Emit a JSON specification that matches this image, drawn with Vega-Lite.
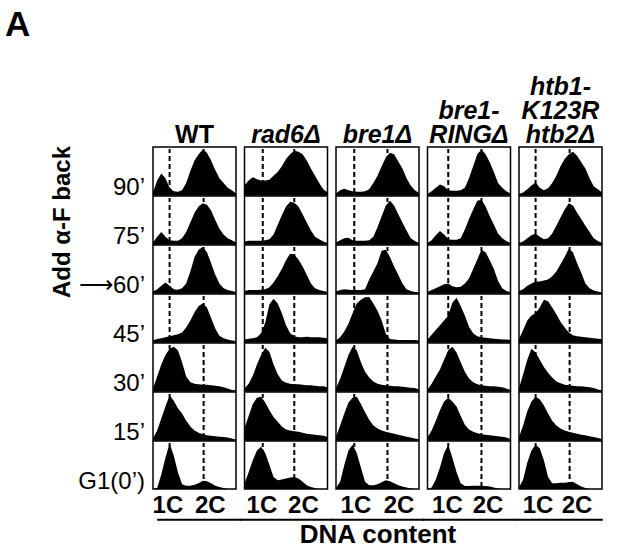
{
"$schema":"https://vega.github.io/schema/vega-lite/v6.json",
"background":"white",
"padding":{"left":4,"top":8,"right":5,"bottom":5},
"title":{"text":"A","anchor":"start","frame":"bounds","fontSize":35,"fontWeight":"bold","dx":-46,"offset":32,"color":"black"},
"data":{"values":[
{"s":"WT","t":90,"x":0,"y":5},{"s":"WT","t":90,"x":5,"y":30},{"s":"WT","t":90,"x":10,"y":45},{"s":"WT","t":90,"x":15,"y":35},{"s":"WT","t":90,"x":20,"y":15},{"s":"WT","t":90,"x":25,"y":8},{"s":"WT","t":90,"x":30,"y":7},{"s":"WT","t":90,"x":35,"y":10},{"s":"WT","t":90,"x":40,"y":25},{"s":"WT","t":90,"x":45,"y":50},{"s":"WT","t":90,"x":50,"y":72},{"s":"WT","t":90,"x":55,"y":85},{"s":"WT","t":90,"x":60,"y":95},{"s":"WT","t":90,"x":65,"y":88},{"s":"WT","t":90,"x":70,"y":72},{"s":"WT","t":90,"x":75,"y":52},{"s":"WT","t":90,"x":80,"y":35},{"s":"WT","t":90,"x":85,"y":25},{"s":"WT","t":90,"x":90,"y":15},{"s":"WT","t":90,"x":95,"y":10},{"s":"WT","t":90,"x":100,"y":3},
{"s":"WT","t":75,"x":0,"y":3},{"s":"WT","t":75,"x":5,"y":15},{"s":"WT","t":75,"x":10,"y":25},{"s":"WT","t":75,"x":15,"y":15},{"s":"WT","t":75,"x":20,"y":8},{"s":"WT","t":75,"x":25,"y":7},{"s":"WT","t":75,"x":30,"y":7},{"s":"WT","t":75,"x":35,"y":12},{"s":"WT","t":75,"x":40,"y":25},{"s":"WT","t":75,"x":45,"y":45},{"s":"WT","t":75,"x":50,"y":65},{"s":"WT","t":75,"x":55,"y":78},{"s":"WT","t":75,"x":60,"y":85},{"s":"WT","t":75,"x":65,"y":82},{"s":"WT","t":75,"x":70,"y":70},{"s":"WT","t":75,"x":75,"y":50},{"s":"WT","t":75,"x":80,"y":32},{"s":"WT","t":75,"x":85,"y":20},{"s":"WT","t":75,"x":90,"y":12},{"s":"WT","t":75,"x":95,"y":8},{"s":"WT","t":75,"x":100,"y":3},
{"s":"WT","t":60,"x":0,"y":3},{"s":"WT","t":60,"x":5,"y":8},{"s":"WT","t":60,"x":10,"y":15},{"s":"WT","t":60,"x":15,"y":22},{"s":"WT","t":60,"x":20,"y":15},{"s":"WT","t":60,"x":25,"y":8},{"s":"WT","t":60,"x":30,"y":7},{"s":"WT","t":60,"x":35,"y":10},{"s":"WT","t":60,"x":40,"y":20},{"s":"WT","t":60,"x":45,"y":45},{"s":"WT","t":60,"x":50,"y":75},{"s":"WT","t":60,"x":55,"y":90},{"s":"WT","t":60,"x":60,"y":96},{"s":"WT","t":60,"x":65,"y":85},{"s":"WT","t":60,"x":70,"y":62},{"s":"WT","t":60,"x":75,"y":38},{"s":"WT","t":60,"x":80,"y":20},{"s":"WT","t":60,"x":85,"y":10},{"s":"WT","t":60,"x":90,"y":6},{"s":"WT","t":60,"x":95,"y":4},{"s":"WT","t":60,"x":100,"y":2},
{"s":"WT","t":45,"x":0,"y":3},{"s":"WT","t":45,"x":5,"y":6},{"s":"WT","t":45,"x":10,"y":8},{"s":"WT","t":45,"x":15,"y":10},{"s":"WT","t":45,"x":20,"y":12},{"s":"WT","t":45,"x":25,"y":14},{"s":"WT","t":45,"x":30,"y":16},{"s":"WT","t":45,"x":35,"y":20},{"s":"WT","t":45,"x":40,"y":30},{"s":"WT","t":45,"x":45,"y":45},{"s":"WT","t":45,"x":50,"y":62},{"s":"WT","t":45,"x":55,"y":75},{"s":"WT","t":45,"x":60,"y":80},{"s":"WT","t":45,"x":65,"y":72},{"s":"WT","t":45,"x":70,"y":50},{"s":"WT","t":45,"x":75,"y":28},{"s":"WT","t":45,"x":80,"y":13},{"s":"WT","t":45,"x":85,"y":8},{"s":"WT","t":45,"x":90,"y":5},{"s":"WT","t":45,"x":95,"y":3},{"s":"WT","t":45,"x":100,"y":2},
{"s":"WT","t":30,"x":0,"y":5},{"s":"WT","t":30,"x":5,"y":30},{"s":"WT","t":30,"x":10,"y":55},{"s":"WT","t":30,"x":15,"y":75},{"s":"WT","t":30,"x":20,"y":88},{"s":"WT","t":30,"x":25,"y":92},{"s":"WT","t":30,"x":30,"y":85},{"s":"WT","t":30,"x":35,"y":60},{"s":"WT","t":30,"x":40,"y":30},{"s":"WT","t":30,"x":45,"y":18},{"s":"WT","t":30,"x":50,"y":15},{"s":"WT","t":30,"x":55,"y":14},{"s":"WT","t":30,"x":60,"y":13},{"s":"WT","t":30,"x":65,"y":13},{"s":"WT","t":30,"x":70,"y":12},{"s":"WT","t":30,"x":75,"y":11},{"s":"WT","t":30,"x":80,"y":10},{"s":"WT","t":30,"x":85,"y":8},{"s":"WT","t":30,"x":90,"y":5},{"s":"WT","t":30,"x":95,"y":2},{"s":"WT","t":30,"x":100,"y":0},
{"s":"WT","t":15,"x":0,"y":3},{"s":"WT","t":15,"x":5,"y":20},{"s":"WT","t":15,"x":10,"y":45},{"s":"WT","t":15,"x":15,"y":70},{"s":"WT","t":15,"x":20,"y":93},{"s":"WT","t":15,"x":25,"y":82},{"s":"WT","t":15,"x":30,"y":66},{"s":"WT","t":15,"x":35,"y":55},{"s":"WT","t":15,"x":40,"y":40},{"s":"WT","t":15,"x":45,"y":28},{"s":"WT","t":15,"x":50,"y":20},{"s":"WT","t":15,"x":55,"y":15},{"s":"WT","t":15,"x":60,"y":12},{"s":"WT","t":15,"x":65,"y":10},{"s":"WT","t":15,"x":70,"y":9},{"s":"WT","t":15,"x":75,"y":8},{"s":"WT","t":15,"x":80,"y":7},{"s":"WT","t":15,"x":85,"y":6},{"s":"WT","t":15,"x":90,"y":5},{"s":"WT","t":15,"x":95,"y":3},{"s":"WT","t":15,"x":100,"y":0},
{"s":"WT","t":0,"x":0,"y":0},{"s":"WT","t":0,"x":5,"y":2},{"s":"WT","t":0,"x":10,"y":30},{"s":"WT","t":0,"x":15,"y":65},{"s":"WT","t":0,"x":20,"y":95},{"s":"WT","t":0,"x":25,"y":70},{"s":"WT","t":0,"x":30,"y":35},{"s":"WT","t":0,"x":35,"y":10},{"s":"WT","t":0,"x":40,"y":7},{"s":"WT","t":0,"x":45,"y":7},{"s":"WT","t":0,"x":50,"y":9},{"s":"WT","t":0,"x":55,"y":12},{"s":"WT","t":0,"x":60,"y":17},{"s":"WT","t":0,"x":65,"y":16},{"s":"WT","t":0,"x":70,"y":12},{"s":"WT","t":0,"x":75,"y":7},{"s":"WT","t":0,"x":80,"y":4},{"s":"WT","t":0,"x":85,"y":2},{"s":"WT","t":0,"x":90,"y":0},{"s":"WT","t":0,"x":95,"y":0},{"s":"WT","t":0,"x":100,"y":0},
{"s":"rad6","t":90,"x":0,"y":20},{"s":"rad6","t":90,"x":5,"y":30},{"s":"rad6","t":90,"x":10,"y":37},{"s":"rad6","t":90,"x":15,"y":33},{"s":"rad6","t":90,"x":20,"y":30},{"s":"rad6","t":90,"x":25,"y":30},{"s":"rad6","t":90,"x":30,"y":32},{"s":"rad6","t":90,"x":35,"y":40},{"s":"rad6","t":90,"x":40,"y":48},{"s":"rad6","t":90,"x":45,"y":60},{"s":"rad6","t":90,"x":50,"y":75},{"s":"rad6","t":90,"x":55,"y":85},{"s":"rad6","t":90,"x":60,"y":92},{"s":"rad6","t":90,"x":65,"y":90},{"s":"rad6","t":90,"x":70,"y":85},{"s":"rad6","t":90,"x":75,"y":72},{"s":"rad6","t":90,"x":80,"y":55},{"s":"rad6","t":90,"x":85,"y":40},{"s":"rad6","t":90,"x":90,"y":25},{"s":"rad6","t":90,"x":95,"y":12},{"s":"rad6","t":90,"x":100,"y":5},
{"s":"rad6","t":75,"x":0,"y":5},{"s":"rad6","t":75,"x":5,"y":7},{"s":"rad6","t":75,"x":10,"y":7},{"s":"rad6","t":75,"x":15,"y":7},{"s":"rad6","t":75,"x":20,"y":7},{"s":"rad6","t":75,"x":25,"y":8},{"s":"rad6","t":75,"x":30,"y":10},{"s":"rad6","t":75,"x":35,"y":20},{"s":"rad6","t":75,"x":40,"y":40},{"s":"rad6","t":75,"x":45,"y":60},{"s":"rad6","t":75,"x":50,"y":78},{"s":"rad6","t":75,"x":55,"y":88},{"s":"rad6","t":75,"x":60,"y":86},{"s":"rad6","t":75,"x":65,"y":78},{"s":"rad6","t":75,"x":70,"y":62},{"s":"rad6","t":75,"x":75,"y":45},{"s":"rad6","t":75,"x":80,"y":28},{"s":"rad6","t":75,"x":85,"y":15},{"s":"rad6","t":75,"x":90,"y":10},{"s":"rad6","t":75,"x":95,"y":5},{"s":"rad6","t":75,"x":100,"y":2},
{"s":"rad6","t":60,"x":0,"y":4},{"s":"rad6","t":60,"x":5,"y":6},{"s":"rad6","t":60,"x":10,"y":6},{"s":"rad6","t":60,"x":15,"y":6},{"s":"rad6","t":60,"x":20,"y":7},{"s":"rad6","t":60,"x":25,"y":8},{"s":"rad6","t":60,"x":30,"y":12},{"s":"rad6","t":60,"x":35,"y":22},{"s":"rad6","t":60,"x":40,"y":35},{"s":"rad6","t":60,"x":45,"y":50},{"s":"rad6","t":60,"x":50,"y":68},{"s":"rad6","t":60,"x":55,"y":82},{"s":"rad6","t":60,"x":60,"y":80},{"s":"rad6","t":60,"x":65,"y":70},{"s":"rad6","t":60,"x":70,"y":55},{"s":"rad6","t":60,"x":75,"y":38},{"s":"rad6","t":60,"x":80,"y":20},{"s":"rad6","t":60,"x":85,"y":10},{"s":"rad6","t":60,"x":90,"y":6},{"s":"rad6","t":60,"x":95,"y":4},{"s":"rad6","t":60,"x":100,"y":2},
{"s":"rad6","t":45,"x":0,"y":5},{"s":"rad6","t":45,"x":5,"y":7},{"s":"rad6","t":45,"x":10,"y":8},{"s":"rad6","t":45,"x":15,"y":10},{"s":"rad6","t":45,"x":20,"y":18},{"s":"rad6","t":45,"x":25,"y":40},{"s":"rad6","t":45,"x":30,"y":78},{"s":"rad6","t":45,"x":35,"y":90},{"s":"rad6","t":45,"x":40,"y":80},{"s":"rad6","t":45,"x":45,"y":60},{"s":"rad6","t":45,"x":50,"y":35},{"s":"rad6","t":45,"x":55,"y":18},{"s":"rad6","t":45,"x":60,"y":12},{"s":"rad6","t":45,"x":65,"y":10},{"s":"rad6","t":45,"x":70,"y":10},{"s":"rad6","t":45,"x":75,"y":11},{"s":"rad6","t":45,"x":80,"y":10},{"s":"rad6","t":45,"x":85,"y":10},{"s":"rad6","t":45,"x":90,"y":10},{"s":"rad6","t":45,"x":95,"y":9},{"s":"rad6","t":45,"x":100,"y":8},
{"s":"rad6","t":30,"x":0,"y":5},{"s":"rad6","t":30,"x":5,"y":15},{"s":"rad6","t":30,"x":10,"y":32},{"s":"rad6","t":30,"x":15,"y":55},{"s":"rad6","t":30,"x":20,"y":75},{"s":"rad6","t":30,"x":25,"y":90},{"s":"rad6","t":30,"x":30,"y":82},{"s":"rad6","t":30,"x":35,"y":55},{"s":"rad6","t":30,"x":40,"y":35},{"s":"rad6","t":30,"x":45,"y":22},{"s":"rad6","t":30,"x":50,"y":17},{"s":"rad6","t":30,"x":55,"y":15},{"s":"rad6","t":30,"x":60,"y":14},{"s":"rad6","t":30,"x":65,"y":14},{"s":"rad6","t":30,"x":70,"y":13},{"s":"rad6","t":30,"x":75,"y":12},{"s":"rad6","t":30,"x":80,"y":12},{"s":"rad6","t":30,"x":85,"y":11},{"s":"rad6","t":30,"x":90,"y":10},{"s":"rad6","t":30,"x":95,"y":10},{"s":"rad6","t":30,"x":100,"y":8},
{"s":"rad6","t":15,"x":0,"y":25},{"s":"rad6","t":15,"x":5,"y":50},{"s":"rad6","t":15,"x":10,"y":75},{"s":"rad6","t":15,"x":15,"y":88},{"s":"rad6","t":15,"x":20,"y":90},{"s":"rad6","t":15,"x":25,"y":78},{"s":"rad6","t":15,"x":30,"y":62},{"s":"rad6","t":15,"x":35,"y":48},{"s":"rad6","t":15,"x":40,"y":38},{"s":"rad6","t":15,"x":45,"y":28},{"s":"rad6","t":15,"x":50,"y":22},{"s":"rad6","t":15,"x":55,"y":20},{"s":"rad6","t":15,"x":60,"y":18},{"s":"rad6","t":15,"x":65,"y":17},{"s":"rad6","t":15,"x":70,"y":15},{"s":"rad6","t":15,"x":75,"y":13},{"s":"rad6","t":15,"x":80,"y":12},{"s":"rad6","t":15,"x":85,"y":11},{"s":"rad6","t":15,"x":90,"y":10},{"s":"rad6","t":15,"x":95,"y":9},{"s":"rad6","t":15,"x":100,"y":6},
{"s":"rad6","t":0,"x":0,"y":12},{"s":"rad6","t":0,"x":5,"y":35},{"s":"rad6","t":0,"x":10,"y":60},{"s":"rad6","t":0,"x":15,"y":80},{"s":"rad6","t":0,"x":20,"y":88},{"s":"rad6","t":0,"x":25,"y":75},{"s":"rad6","t":0,"x":30,"y":50},{"s":"rad6","t":0,"x":35,"y":25},{"s":"rad6","t":0,"x":40,"y":18},{"s":"rad6","t":0,"x":45,"y":20},{"s":"rad6","t":0,"x":50,"y":22},{"s":"rad6","t":0,"x":55,"y":24},{"s":"rad6","t":0,"x":60,"y":25},{"s":"rad6","t":0,"x":65,"y":22},{"s":"rad6","t":0,"x":70,"y":15},{"s":"rad6","t":0,"x":75,"y":8},{"s":"rad6","t":0,"x":80,"y":4},{"s":"rad6","t":0,"x":85,"y":2},{"s":"rad6","t":0,"x":90,"y":0},{"s":"rad6","t":0,"x":95,"y":0},{"s":"rad6","t":0,"x":100,"y":0},
{"s":"bre1","t":90,"x":0,"y":3},{"s":"bre1","t":90,"x":5,"y":10},{"s":"bre1","t":90,"x":10,"y":13},{"s":"bre1","t":90,"x":15,"y":10},{"s":"bre1","t":90,"x":20,"y":8},{"s":"bre1","t":90,"x":25,"y":7},{"s":"bre1","t":90,"x":30,"y":7},{"s":"bre1","t":90,"x":35,"y":8},{"s":"bre1","t":90,"x":40,"y":12},{"s":"bre1","t":90,"x":45,"y":25},{"s":"bre1","t":90,"x":50,"y":40},{"s":"bre1","t":90,"x":55,"y":60},{"s":"bre1","t":90,"x":60,"y":78},{"s":"bre1","t":90,"x":65,"y":88},{"s":"bre1","t":90,"x":70,"y":85},{"s":"bre1","t":90,"x":75,"y":70},{"s":"bre1","t":90,"x":80,"y":55},{"s":"bre1","t":90,"x":85,"y":35},{"s":"bre1","t":90,"x":90,"y":20},{"s":"bre1","t":90,"x":95,"y":10},{"s":"bre1","t":90,"x":100,"y":4},
{"s":"bre1","t":75,"x":0,"y":3},{"s":"bre1","t":75,"x":5,"y":8},{"s":"bre1","t":75,"x":10,"y":12},{"s":"bre1","t":75,"x":15,"y":13},{"s":"bre1","t":75,"x":20,"y":8},{"s":"bre1","t":75,"x":25,"y":7},{"s":"bre1","t":75,"x":30,"y":7},{"s":"bre1","t":75,"x":35,"y":7},{"s":"bre1","t":75,"x":40,"y":8},{"s":"bre1","t":75,"x":45,"y":15},{"s":"bre1","t":75,"x":50,"y":35},{"s":"bre1","t":75,"x":55,"y":58},{"s":"bre1","t":75,"x":60,"y":80},{"s":"bre1","t":75,"x":65,"y":90},{"s":"bre1","t":75,"x":70,"y":80},{"s":"bre1","t":75,"x":75,"y":62},{"s":"bre1","t":75,"x":80,"y":45},{"s":"bre1","t":75,"x":85,"y":28},{"s":"bre1","t":75,"x":90,"y":12},{"s":"bre1","t":75,"x":95,"y":6},{"s":"bre1","t":75,"x":100,"y":2},
{"s":"bre1","t":60,"x":0,"y":3},{"s":"bre1","t":60,"x":5,"y":6},{"s":"bre1","t":60,"x":10,"y":8},{"s":"bre1","t":60,"x":15,"y":7},{"s":"bre1","t":60,"x":20,"y":6},{"s":"bre1","t":60,"x":25,"y":6},{"s":"bre1","t":60,"x":30,"y":6},{"s":"bre1","t":60,"x":35,"y":8},{"s":"bre1","t":60,"x":40,"y":28},{"s":"bre1","t":60,"x":45,"y":45},{"s":"bre1","t":60,"x":50,"y":62},{"s":"bre1","t":60,"x":55,"y":88},{"s":"bre1","t":60,"x":60,"y":90},{"s":"bre1","t":60,"x":65,"y":75},{"s":"bre1","t":60,"x":70,"y":55},{"s":"bre1","t":60,"x":75,"y":38},{"s":"bre1","t":60,"x":80,"y":20},{"s":"bre1","t":60,"x":85,"y":8},{"s":"bre1","t":60,"x":90,"y":4},{"s":"bre1","t":60,"x":95,"y":2},{"s":"bre1","t":60,"x":100,"y":1},
{"s":"bre1","t":45,"x":0,"y":3},{"s":"bre1","t":45,"x":5,"y":10},{"s":"bre1","t":45,"x":10,"y":22},{"s":"bre1","t":45,"x":15,"y":38},{"s":"bre1","t":45,"x":20,"y":60},{"s":"bre1","t":45,"x":25,"y":80},{"s":"bre1","t":45,"x":30,"y":88},{"s":"bre1","t":45,"x":35,"y":93},{"s":"bre1","t":45,"x":40,"y":94},{"s":"bre1","t":45,"x":45,"y":80},{"s":"bre1","t":45,"x":50,"y":65},{"s":"bre1","t":45,"x":55,"y":45},{"s":"bre1","t":45,"x":60,"y":17},{"s":"bre1","t":45,"x":65,"y":6},{"s":"bre1","t":45,"x":70,"y":5},{"s":"bre1","t":45,"x":75,"y":4},{"s":"bre1","t":45,"x":80,"y":4},{"s":"bre1","t":45,"x":85,"y":4},{"s":"bre1","t":45,"x":90,"y":4},{"s":"bre1","t":45,"x":95,"y":4},{"s":"bre1","t":45,"x":100,"y":3},
{"s":"bre1","t":30,"x":0,"y":6},{"s":"bre1","t":30,"x":5,"y":25},{"s":"bre1","t":30,"x":10,"y":50},{"s":"bre1","t":30,"x":15,"y":75},{"s":"bre1","t":30,"x":20,"y":92},{"s":"bre1","t":30,"x":25,"y":85},{"s":"bre1","t":30,"x":30,"y":60},{"s":"bre1","t":30,"x":35,"y":40},{"s":"bre1","t":30,"x":40,"y":28},{"s":"bre1","t":30,"x":45,"y":20},{"s":"bre1","t":30,"x":50,"y":15},{"s":"bre1","t":30,"x":55,"y":13},{"s":"bre1","t":30,"x":60,"y":12},{"s":"bre1","t":30,"x":65,"y":11},{"s":"bre1","t":30,"x":70,"y":10},{"s":"bre1","t":30,"x":75,"y":10},{"s":"bre1","t":30,"x":80,"y":9},{"s":"bre1","t":30,"x":85,"y":8},{"s":"bre1","t":30,"x":90,"y":7},{"s":"bre1","t":30,"x":95,"y":6},{"s":"bre1","t":30,"x":100,"y":3},
{"s":"bre1","t":15,"x":0,"y":6},{"s":"bre1","t":15,"x":5,"y":30},{"s":"bre1","t":15,"x":10,"y":55},{"s":"bre1","t":15,"x":15,"y":78},{"s":"bre1","t":15,"x":20,"y":88},{"s":"bre1","t":15,"x":25,"y":90},{"s":"bre1","t":15,"x":30,"y":75},{"s":"bre1","t":15,"x":35,"y":58},{"s":"bre1","t":15,"x":40,"y":42},{"s":"bre1","t":15,"x":45,"y":30},{"s":"bre1","t":15,"x":50,"y":24},{"s":"bre1","t":15,"x":55,"y":20},{"s":"bre1","t":15,"x":60,"y":17},{"s":"bre1","t":15,"x":65,"y":15},{"s":"bre1","t":15,"x":70,"y":13},{"s":"bre1","t":15,"x":75,"y":11},{"s":"bre1","t":15,"x":80,"y":9},{"s":"bre1","t":15,"x":85,"y":7},{"s":"bre1","t":15,"x":90,"y":5},{"s":"bre1","t":15,"x":95,"y":3},{"s":"bre1","t":15,"x":100,"y":1},
{"s":"bre1","t":0,"x":0,"y":2},{"s":"bre1","t":0,"x":5,"y":15},{"s":"bre1","t":0,"x":10,"y":50},{"s":"bre1","t":0,"x":15,"y":80},{"s":"bre1","t":0,"x":20,"y":92},{"s":"bre1","t":0,"x":25,"y":75},{"s":"bre1","t":0,"x":30,"y":45},{"s":"bre1","t":0,"x":35,"y":15},{"s":"bre1","t":0,"x":40,"y":8},{"s":"bre1","t":0,"x":45,"y":8},{"s":"bre1","t":0,"x":50,"y":10},{"s":"bre1","t":0,"x":55,"y":14},{"s":"bre1","t":0,"x":60,"y":18},{"s":"bre1","t":0,"x":65,"y":16},{"s":"bre1","t":0,"x":70,"y":12},{"s":"bre1","t":0,"x":75,"y":8},{"s":"bre1","t":0,"x":80,"y":5},{"s":"bre1","t":0,"x":85,"y":3},{"s":"bre1","t":0,"x":90,"y":1},{"s":"bre1","t":0,"x":95,"y":0},{"s":"bre1","t":0,"x":100,"y":0},
{"s":"RING","t":90,"x":0,"y":2},{"s":"RING","t":90,"x":5,"y":8},{"s":"RING","t":90,"x":10,"y":15},{"s":"RING","t":90,"x":15,"y":22},{"s":"RING","t":90,"x":20,"y":18},{"s":"RING","t":90,"x":25,"y":10},{"s":"RING","t":90,"x":30,"y":9},{"s":"RING","t":90,"x":35,"y":9},{"s":"RING","t":90,"x":40,"y":10},{"s":"RING","t":90,"x":45,"y":15},{"s":"RING","t":90,"x":50,"y":35},{"s":"RING","t":90,"x":55,"y":60},{"s":"RING","t":90,"x":60,"y":85},{"s":"RING","t":90,"x":65,"y":95},{"s":"RING","t":90,"x":70,"y":85},{"s":"RING","t":90,"x":75,"y":68},{"s":"RING","t":90,"x":80,"y":48},{"s":"RING","t":90,"x":85,"y":25},{"s":"RING","t":90,"x":90,"y":15},{"s":"RING","t":90,"x":95,"y":8},{"s":"RING","t":90,"x":100,"y":3},
{"s":"RING","t":75,"x":0,"y":2},{"s":"RING","t":75,"x":5,"y":8},{"s":"RING","t":75,"x":10,"y":18},{"s":"RING","t":75,"x":15,"y":27},{"s":"RING","t":75,"x":20,"y":20},{"s":"RING","t":75,"x":25,"y":10},{"s":"RING","t":75,"x":30,"y":9},{"s":"RING","t":75,"x":35,"y":9},{"s":"RING","t":75,"x":40,"y":12},{"s":"RING","t":75,"x":45,"y":30},{"s":"RING","t":75,"x":50,"y":52},{"s":"RING","t":75,"x":55,"y":72},{"s":"RING","t":75,"x":60,"y":90},{"s":"RING","t":75,"x":65,"y":92},{"s":"RING","t":75,"x":70,"y":78},{"s":"RING","t":75,"x":75,"y":58},{"s":"RING","t":75,"x":80,"y":40},{"s":"RING","t":75,"x":85,"y":22},{"s":"RING","t":75,"x":90,"y":12},{"s":"RING","t":75,"x":95,"y":6},{"s":"RING","t":75,"x":100,"y":2},
{"s":"RING","t":60,"x":0,"y":2},{"s":"RING","t":60,"x":5,"y":6},{"s":"RING","t":60,"x":10,"y":10},{"s":"RING","t":60,"x":15,"y":14},{"s":"RING","t":60,"x":20,"y":18},{"s":"RING","t":60,"x":25,"y":20},{"s":"RING","t":60,"x":30,"y":14},{"s":"RING","t":60,"x":35,"y":12},{"s":"RING","t":60,"x":40,"y":13},{"s":"RING","t":60,"x":45,"y":20},{"s":"RING","t":60,"x":50,"y":30},{"s":"RING","t":60,"x":55,"y":50},{"s":"RING","t":60,"x":60,"y":70},{"s":"RING","t":60,"x":65,"y":90},{"s":"RING","t":60,"x":70,"y":85},{"s":"RING","t":60,"x":75,"y":68},{"s":"RING","t":60,"x":80,"y":50},{"s":"RING","t":60,"x":85,"y":25},{"s":"RING","t":60,"x":90,"y":10},{"s":"RING","t":60,"x":95,"y":4},{"s":"RING","t":60,"x":100,"y":2},
{"s":"RING","t":45,"x":0,"y":5},{"s":"RING","t":45,"x":5,"y":15},{"s":"RING","t":45,"x":10,"y":25},{"s":"RING","t":45,"x":15,"y":35},{"s":"RING","t":45,"x":20,"y":45},{"s":"RING","t":45,"x":25,"y":55},{"s":"RING","t":45,"x":30,"y":82},{"s":"RING","t":45,"x":35,"y":92},{"s":"RING","t":45,"x":40,"y":75},{"s":"RING","t":45,"x":45,"y":55},{"s":"RING","t":45,"x":50,"y":32},{"s":"RING","t":45,"x":55,"y":18},{"s":"RING","t":45,"x":60,"y":12},{"s":"RING","t":45,"x":65,"y":10},{"s":"RING","t":45,"x":70,"y":9},{"s":"RING","t":45,"x":75,"y":8},{"s":"RING","t":45,"x":80,"y":7},{"s":"RING","t":45,"x":85,"y":6},{"s":"RING","t":45,"x":90,"y":5},{"s":"RING","t":45,"x":95,"y":5},{"s":"RING","t":45,"x":100,"y":4},
{"s":"RING","t":30,"x":0,"y":3},{"s":"RING","t":30,"x":5,"y":15},{"s":"RING","t":30,"x":10,"y":30},{"s":"RING","t":30,"x":15,"y":45},{"s":"RING","t":30,"x":20,"y":65},{"s":"RING","t":30,"x":25,"y":85},{"s":"RING","t":30,"x":30,"y":92},{"s":"RING","t":30,"x":35,"y":80},{"s":"RING","t":30,"x":40,"y":60},{"s":"RING","t":30,"x":45,"y":40},{"s":"RING","t":30,"x":50,"y":26},{"s":"RING","t":30,"x":55,"y":18},{"s":"RING","t":30,"x":60,"y":14},{"s":"RING","t":30,"x":65,"y":12},{"s":"RING","t":30,"x":70,"y":11},{"s":"RING","t":30,"x":75,"y":10},{"s":"RING","t":30,"x":80,"y":10},{"s":"RING","t":30,"x":85,"y":9},{"s":"RING","t":30,"x":90,"y":8},{"s":"RING","t":30,"x":95,"y":5},{"s":"RING","t":30,"x":100,"y":2},
{"s":"RING","t":15,"x":0,"y":5},{"s":"RING","t":15,"x":5,"y":20},{"s":"RING","t":15,"x":10,"y":40},{"s":"RING","t":15,"x":15,"y":62},{"s":"RING","t":15,"x":20,"y":80},{"s":"RING","t":15,"x":25,"y":88},{"s":"RING","t":15,"x":30,"y":80},{"s":"RING","t":15,"x":35,"y":70},{"s":"RING","t":15,"x":40,"y":50},{"s":"RING","t":15,"x":45,"y":32},{"s":"RING","t":15,"x":50,"y":22},{"s":"RING","t":15,"x":55,"y":17},{"s":"RING","t":15,"x":60,"y":14},{"s":"RING","t":15,"x":65,"y":12},{"s":"RING","t":15,"x":70,"y":11},{"s":"RING","t":15,"x":75,"y":10},{"s":"RING","t":15,"x":80,"y":9},{"s":"RING","t":15,"x":85,"y":8},{"s":"RING","t":15,"x":90,"y":7},{"s":"RING","t":15,"x":95,"y":5},{"s":"RING","t":15,"x":100,"y":2},
{"s":"RING","t":0,"x":0,"y":0},{"s":"RING","t":0,"x":5,"y":3},{"s":"RING","t":0,"x":10,"y":20},{"s":"RING","t":0,"x":15,"y":45},{"s":"RING","t":0,"x":20,"y":75},{"s":"RING","t":0,"x":25,"y":92},{"s":"RING","t":0,"x":30,"y":65},{"s":"RING","t":0,"x":35,"y":35},{"s":"RING","t":0,"x":40,"y":12},{"s":"RING","t":0,"x":45,"y":6},{"s":"RING","t":0,"x":50,"y":6},{"s":"RING","t":0,"x":55,"y":7},{"s":"RING","t":0,"x":60,"y":7},{"s":"RING","t":0,"x":65,"y":7},{"s":"RING","t":0,"x":70,"y":6},{"s":"RING","t":0,"x":75,"y":5},{"s":"RING","t":0,"x":80,"y":3},{"s":"RING","t":0,"x":85,"y":1},{"s":"RING","t":0,"x":90,"y":0},{"s":"RING","t":0,"x":95,"y":0},{"s":"RING","t":0,"x":100,"y":0},
{"s":"htb1","t":90,"x":0,"y":2},{"s":"htb1","t":90,"x":5,"y":5},{"s":"htb1","t":90,"x":10,"y":12},{"s":"htb1","t":90,"x":15,"y":20},{"s":"htb1","t":90,"x":20,"y":26},{"s":"htb1","t":90,"x":25,"y":15},{"s":"htb1","t":90,"x":30,"y":10},{"s":"htb1","t":90,"x":35,"y":14},{"s":"htb1","t":90,"x":40,"y":25},{"s":"htb1","t":90,"x":45,"y":40},{"s":"htb1","t":90,"x":50,"y":60},{"s":"htb1","t":90,"x":55,"y":75},{"s":"htb1","t":90,"x":60,"y":85},{"s":"htb1","t":90,"x":65,"y":90},{"s":"htb1","t":90,"x":70,"y":82},{"s":"htb1","t":90,"x":75,"y":68},{"s":"htb1","t":90,"x":80,"y":55},{"s":"htb1","t":90,"x":85,"y":35},{"s":"htb1","t":90,"x":90,"y":18},{"s":"htb1","t":90,"x":95,"y":12},{"s":"htb1","t":90,"x":100,"y":5},
{"s":"htb1","t":75,"x":0,"y":2},{"s":"htb1","t":75,"x":5,"y":5},{"s":"htb1","t":75,"x":10,"y":12},{"s":"htb1","t":75,"x":15,"y":18},{"s":"htb1","t":75,"x":20,"y":22},{"s":"htb1","t":75,"x":25,"y":15},{"s":"htb1","t":75,"x":30,"y":10},{"s":"htb1","t":75,"x":35,"y":12},{"s":"htb1","t":75,"x":40,"y":22},{"s":"htb1","t":75,"x":45,"y":38},{"s":"htb1","t":75,"x":50,"y":55},{"s":"htb1","t":75,"x":55,"y":72},{"s":"htb1","t":75,"x":60,"y":85},{"s":"htb1","t":75,"x":65,"y":80},{"s":"htb1","t":75,"x":70,"y":65},{"s":"htb1","t":75,"x":75,"y":52},{"s":"htb1","t":75,"x":80,"y":38},{"s":"htb1","t":75,"x":85,"y":25},{"s":"htb1","t":75,"x":90,"y":12},{"s":"htb1","t":75,"x":95,"y":6},{"s":"htb1","t":75,"x":100,"y":2},
{"s":"htb1","t":60,"x":0,"y":4},{"s":"htb1","t":60,"x":5,"y":8},{"s":"htb1","t":60,"x":10,"y":15},{"s":"htb1","t":60,"x":15,"y":20},{"s":"htb1","t":60,"x":20,"y":24},{"s":"htb1","t":60,"x":25,"y":24},{"s":"htb1","t":60,"x":30,"y":26},{"s":"htb1","t":60,"x":35,"y":28},{"s":"htb1","t":60,"x":40,"y":35},{"s":"htb1","t":60,"x":45,"y":45},{"s":"htb1","t":60,"x":50,"y":60},{"s":"htb1","t":60,"x":55,"y":75},{"s":"htb1","t":60,"x":60,"y":92},{"s":"htb1","t":60,"x":65,"y":85},{"s":"htb1","t":60,"x":70,"y":62},{"s":"htb1","t":60,"x":75,"y":42},{"s":"htb1","t":60,"x":80,"y":20},{"s":"htb1","t":60,"x":85,"y":10},{"s":"htb1","t":60,"x":90,"y":5},{"s":"htb1","t":60,"x":95,"y":3},{"s":"htb1","t":60,"x":100,"y":1},
{"s":"htb1","t":45,"x":0,"y":6},{"s":"htb1","t":45,"x":5,"y":25},{"s":"htb1","t":45,"x":10,"y":45},{"s":"htb1","t":45,"x":15,"y":55},{"s":"htb1","t":45,"x":20,"y":60},{"s":"htb1","t":45,"x":25,"y":72},{"s":"htb1","t":45,"x":30,"y":88},{"s":"htb1","t":45,"x":35,"y":85},{"s":"htb1","t":45,"x":40,"y":72},{"s":"htb1","t":45,"x":45,"y":58},{"s":"htb1","t":45,"x":50,"y":42},{"s":"htb1","t":45,"x":55,"y":30},{"s":"htb1","t":45,"x":60,"y":20},{"s":"htb1","t":45,"x":65,"y":14},{"s":"htb1","t":45,"x":70,"y":12},{"s":"htb1","t":45,"x":75,"y":11},{"s":"htb1","t":45,"x":80,"y":10},{"s":"htb1","t":45,"x":85,"y":9},{"s":"htb1","t":45,"x":90,"y":8},{"s":"htb1","t":45,"x":95,"y":7},{"s":"htb1","t":45,"x":100,"y":6},
{"s":"htb1","t":30,"x":0,"y":6},{"s":"htb1","t":30,"x":5,"y":35},{"s":"htb1","t":30,"x":10,"y":65},{"s":"htb1","t":30,"x":15,"y":88},{"s":"htb1","t":30,"x":20,"y":80},{"s":"htb1","t":30,"x":25,"y":65},{"s":"htb1","t":30,"x":30,"y":50},{"s":"htb1","t":30,"x":35,"y":38},{"s":"htb1","t":30,"x":40,"y":28},{"s":"htb1","t":30,"x":45,"y":20},{"s":"htb1","t":30,"x":50,"y":16},{"s":"htb1","t":30,"x":55,"y":13},{"s":"htb1","t":30,"x":60,"y":12},{"s":"htb1","t":30,"x":65,"y":11},{"s":"htb1","t":30,"x":70,"y":10},{"s":"htb1","t":30,"x":75,"y":10},{"s":"htb1","t":30,"x":80,"y":9},{"s":"htb1","t":30,"x":85,"y":8},{"s":"htb1","t":30,"x":90,"y":6},{"s":"htb1","t":30,"x":95,"y":3},{"s":"htb1","t":30,"x":100,"y":1},
{"s":"htb1","t":15,"x":0,"y":6},{"s":"htb1","t":15,"x":5,"y":30},{"s":"htb1","t":15,"x":10,"y":60},{"s":"htb1","t":15,"x":15,"y":80},{"s":"htb1","t":15,"x":20,"y":90},{"s":"htb1","t":15,"x":25,"y":85},{"s":"htb1","t":15,"x":30,"y":72},{"s":"htb1","t":15,"x":35,"y":55},{"s":"htb1","t":15,"x":40,"y":40},{"s":"htb1","t":15,"x":45,"y":30},{"s":"htb1","t":15,"x":50,"y":24},{"s":"htb1","t":15,"x":55,"y":20},{"s":"htb1","t":15,"x":60,"y":17},{"s":"htb1","t":15,"x":65,"y":15},{"s":"htb1","t":15,"x":70,"y":13},{"s":"htb1","t":15,"x":75,"y":11},{"s":"htb1","t":15,"x":80,"y":10},{"s":"htb1","t":15,"x":85,"y":8},{"s":"htb1","t":15,"x":90,"y":6},{"s":"htb1","t":15,"x":95,"y":4},{"s":"htb1","t":15,"x":100,"y":2},
{"s":"htb1","t":0,"x":0,"y":3},{"s":"htb1","t":0,"x":5,"y":20},{"s":"htb1","t":0,"x":10,"y":55},{"s":"htb1","t":0,"x":15,"y":80},{"s":"htb1","t":0,"x":20,"y":92},{"s":"htb1","t":0,"x":25,"y":85},{"s":"htb1","t":0,"x":30,"y":60},{"s":"htb1","t":0,"x":35,"y":25},{"s":"htb1","t":0,"x":40,"y":12},{"s":"htb1","t":0,"x":45,"y":12},{"s":"htb1","t":0,"x":50,"y":13},{"s":"htb1","t":0,"x":55,"y":13},{"s":"htb1","t":0,"x":60,"y":14},{"s":"htb1","t":0,"x":65,"y":15},{"s":"htb1","t":0,"x":70,"y":10},{"s":"htb1","t":0,"x":75,"y":5},{"s":"htb1","t":0,"x":80,"y":2},{"s":"htb1","t":0,"x":85,"y":0},{"s":"htb1","t":0,"x":90,"y":0},{"s":"htb1","t":0,"x":95,"y":0},{"s":"htb1","t":0,"x":100,"y":0},
{"s":"WT","t":90,"k":"D","c1":20,"c2":61},{"s":"WT","t":75,"k":"D","c1":20,"c2":61},{"s":"WT","t":60,"k":"D","c1":20,"c2":61},{"s":"WT","t":45,"k":"D","c1":20,"c2":61},{"s":"WT","t":30,"k":"D","c1":20,"c2":61},{"s":"WT","t":15,"k":"D","c1":20,"c2":61},{"s":"WT","t":0,"k":"D","c1":20,"c2":61},
{"s":"rad6","t":90,"k":"D","c1":22,"c2":60},{"s":"rad6","t":75,"k":"D","c1":22,"c2":60},{"s":"rad6","t":60,"k":"D","c1":22,"c2":60},{"s":"rad6","t":45,"k":"D","c1":22,"c2":60},{"s":"rad6","t":30,"k":"D","c1":22,"c2":60},{"s":"rad6","t":15,"k":"D","c1":22,"c2":60},{"s":"rad6","t":0,"k":"D","c1":22,"c2":60},
{"s":"bre1","t":90,"k":"D","c1":22,"c2":62},{"s":"bre1","t":75,"k":"D","c1":22,"c2":62},{"s":"bre1","t":60,"k":"D","c1":22,"c2":62},{"s":"bre1","t":45,"k":"D","c1":22,"c2":62},{"s":"bre1","t":30,"k":"D","c1":22,"c2":62},{"s":"bre1","t":15,"k":"D","c1":22,"c2":62},{"s":"bre1","t":0,"k":"D","c1":22,"c2":62},
{"s":"RING","t":90,"k":"D","c1":25,"c2":65},{"s":"RING","t":75,"k":"D","c1":25,"c2":65},{"s":"RING","t":60,"k":"D","c1":25,"c2":65},{"s":"RING","t":45,"k":"D","c1":25,"c2":65},{"s":"RING","t":30,"k":"D","c1":25,"c2":65},{"s":"RING","t":15,"k":"D","c1":25,"c2":65},{"s":"RING","t":0,"k":"D","c1":25,"c2":65},
{"s":"htb1","t":90,"k":"D","c1":20,"c2":61},{"s":"htb1","t":75,"k":"D","c1":20,"c2":61},{"s":"htb1","t":60,"k":"D","c1":20,"c2":61},{"s":"htb1","t":45,"k":"D","c1":20,"c2":61},{"s":"htb1","t":30,"k":"D","c1":20,"c2":61},{"s":"htb1","t":15,"k":"D","c1":20,"c2":61},{"s":"htb1","t":0,"k":"D","c1":20,"c2":61},
{"s":"WT","t":0,"k":"R","x":5,"x2":106},{"s":"rad6","t":0,"k":"R","x":-6,"x2":106},{"s":"bre1","t":0,"k":"R","x":-6,"x2":106},{"s":"RING","t":0,"k":"R","x":-6,"x2":106},{"s":"htb1","t":0,"k":"R","x":-6,"x2":101},
{"s":"WT","t":0,"k":"L","x":18,"lab":"1C"},{"s":"WT","t":0,"k":"L","x":69,"lab":"2C"},{"s":"rad6","t":0,"k":"L","x":21,"lab":"1C"},{"s":"rad6","t":0,"k":"L","x":71,"lab":"2C"},{"s":"bre1","t":0,"k":"L","x":24,"lab":"1C"},{"s":"bre1","t":0,"k":"L","x":76,"lab":"2C"},{"s":"RING","t":0,"k":"L","x":24,"lab":"1C"},{"s":"RING","t":0,"k":"L","x":73,"lab":"2C"},{"s":"htb1","t":0,"k":"L","x":23,"lab":"1C"},{"s":"htb1","t":0,"k":"L","x":70,"lab":"2C"}
]},
"spacing":{"row":-3,"column":-3.5},
"align":"each",
"bounds":"full",
"facet":{
"row":{"field":"t","type":"ordinal","sort":"descending","title":"Add α-F back",
"header":{"labelAngle":0,"labelAlign":"left","labelAnchor":"start","labelBaseline":"alphabetic","labelFontSize":24,"labelPadding":6,"labelColor":"black",
"labelExpr":"datum.value == 0 ? 'G1(0’)' : (datum.value == 60 ? '⟶60’' : datum.value + '’')",
"titleFontSize":24,"titleFontWeight":"bold","titleColor":"black","titleAnchor":"end","titlePadding":-7}},
"column":{"field":"s","type":"nominal","sort":["WT","rad6","bre1","RING","htb1"],"title":"DNA content",
"header":{"labelOrient":"top","titleOrient":"bottom","labelFontSize":25,"labelFontWeight":"bold","labelColor":"black",
"labelFontStyle":{"expr":"parent[\"s\"] == 'WT' ? 'normal' : 'italic'"},
"labelBaseline":"alphabetic","labelLineHeight":24,"labelPadding":-22,
"labelExpr":"datum.value == 'WT' ? 'WT' : (datum.value == 'rad6' ? 'rad6Δ' : (datum.value == 'bre1' ? 'bre1Δ' : (datum.value == 'RING' ? ['bre1-','RINGΔ'] : ['htb1-','K123R','htb2Δ'])))",
"titleFontSize":26,"titleFontWeight":"bold","titleColor":"black","titlePadding":-10}}
},
"spec":{
"width":83,"height":48,
"layer":[
{"transform":[{"filter":"datum.k == 'D'"},{"fold":["c1","c2"],"as":["c","cx"]}],
"mark":{"type":"rule","strokeDash":[5,3],"strokeWidth":2,"color":"black"},
"encoding":{"x":{"field":"cx","type":"quantitative","scale":{"domain":[0,100]},"axis":null},"y":{"datum":4,"type":"quantitative","scale":{"domain":[0,100]},"axis":null},"y2":{"datum":96}}},
{"transform":[{"filter":"!datum.k"}],
"mark":{"type":"area","color":"black","interpolate":"linear"},
"encoding":{"x":{"field":"x","type":"quantitative","scale":{"domain":[0,100]},"axis":null},"y":{"field":"y","type":"quantitative","scale":{"domain":[0,100]},"axis":null}}},
{"transform":[{"filter":"datum.k == 'R'"}],
"mark":{"type":"rect","color":"black"},
"encoding":{"x":{"field":"x","type":"quantitative","scale":{"domain":[0,100]},"axis":null},"x2":{"field":"x2"},"y":{"datum":-62,"type":"quantitative","scale":{"domain":[0,100]},"axis":null},"y2":{"datum":-66}}},
{"transform":[{"filter":"datum.k == 'L'"}],
"mark":{"type":"text","fontSize":24,"fontWeight":"bold","align":"center","baseline":"alphabetic","color":"black"},
"encoding":{"x":{"field":"x","type":"quantitative","scale":{"domain":[0,100]},"axis":null},"y":{"datum":-50,"type":"quantitative","scale":{"domain":[0,100]},"axis":null},"text":{"field":"lab"}}}
]},
"config":{"font":"Liberation Sans","view":{"stroke":"black","strokeWidth":1.5}}
}
